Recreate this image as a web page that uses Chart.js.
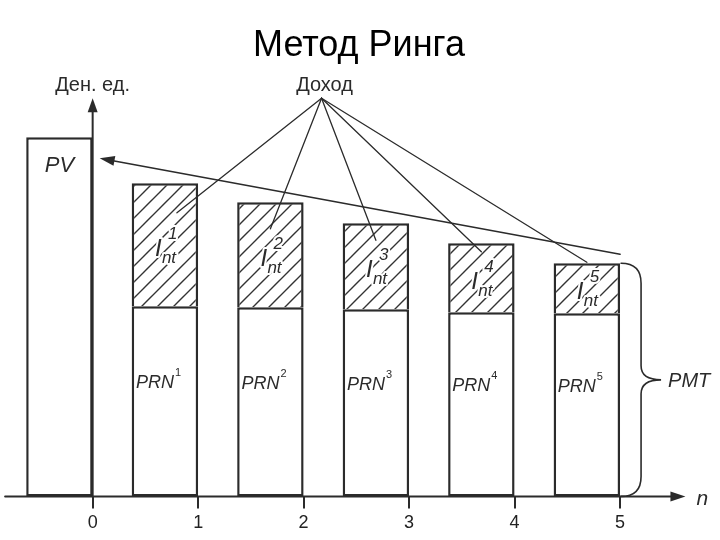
<!DOCTYPE html>
<html><head><meta charset="utf-8">
<script src="https://cdn.jsdelivr.net/npm/chart.js@4/dist/chart.umd.min.js"></script>
<style>html,body{margin:0;padding:0;background:#fff}canvas{display:block}</style>
</head><body>
<canvas id="c" width="720" height="540"></canvas>
<script>
// ---- data ----
const periods = [1, 2, 3, 4, 5];
const tickValues = [0, 1, 2, 3, 4, 5];
const tickLabels = ['0', '1', '2', '3', '4', '5'];
const pvValue = 359;
const principal = [190, 189, 187, 184, 183];   // PRN
const interest = [123, 105, 86, 69, 50];       // Int
const titleText = 'Метод Ринга';
const yAxisTitle = 'Ден. ед.';
const xAxisTitle = 'n';
const incomeText = 'Доход';
const pmtText = 'PMT';

// ---- style ----
const INK = '#2b2b2b';
const FONT = '"Liberation Sans", Arial, sans-serif';
const BAR_FRAC = 0.63;

function makeHatch() {
  const s = 16, c = document.createElement('canvas');
  c.width = s; c.height = s;
  const g = c.getContext('2d');
  g.fillStyle = '#fff'; g.fillRect(0, 0, s, s);
  g.strokeStyle = '#333'; g.lineWidth = 1.4;
  g.beginPath();
  g.moveTo(-2, s + 2); g.lineTo(s + 2, -2);
  g.moveTo(-2, 2); g.lineTo(2, -2);
  g.moveTo(s - 2, s + 2); g.lineTo(s + 2, s - 2);
  g.stroke();
  return g.createPattern(c, 'repeat');
}
const hatch = makeHatch();

function arrowHead(ctx, tx, ty, fx, fy, len, half) {
  const a = Math.atan2(ty - fy, tx - fx);
  ctx.beginPath();
  ctx.moveTo(tx, ty);
  ctx.lineTo(tx - len * Math.cos(a) + half * Math.sin(a), ty - len * Math.sin(a) - half * Math.cos(a));
  ctx.lineTo(tx - len * Math.cos(a) - half * Math.sin(a), ty - len * Math.sin(a) + half * Math.cos(a));
  ctx.closePath();
  ctx.fill();
}

function haloText(ctx, t, px, py) {
  ctx.save();
  ctx.strokeStyle = '#fff'; ctx.lineWidth = 4; ctx.lineJoin = 'round';
  ctx.strokeText(t, px, py);
  ctx.restore();
  ctx.fillText(t, px, py);
}

const annot = {
  id: 'annot',
  afterDatasetsDraw(chart) {
    const { ctx, scales: { x, y } } = chart;
    const x0 = x.getPixelForValue(0);
    const yb = y.getPixelForValue(0);
    ctx.save();
    ctx.strokeStyle = INK; ctx.fillStyle = INK; ctx.lineCap = 'round';

    // x axis with arrow
    const xl = x.getPixelForValue(-0.83), xr = x.getPixelForValue(5.62);
    ctx.lineWidth = 2;
    ctx.beginPath(); ctx.moveTo(xl, yb); ctx.lineTo(xr - 10, yb); ctx.stroke();
    arrowHead(ctx, xr, yb, xl, yb, 15, 5);
    ctx.font = 'italic 21px ' + FONT; ctx.textAlign = 'left'; ctx.textBaseline = 'middle';
    ctx.fillText(xAxisTitle, xr + 11, yb + 3);

    // y axis with arrow
    const yt = y.getPixelForValue(398);
    ctx.beginPath(); ctx.moveTo(x0, yb); ctx.lineTo(x0, yt + 10); ctx.stroke();
    arrowHead(ctx, x0, yt, x0, yb, 14, 5);
    ctx.font = '20px ' + FONT; ctx.textAlign = 'center';
    ctx.fillText(yAxisTitle, x0, y.getPixelForValue(411));

    // PV label
    const pvCx = x.getPixelForValue(-BAR_FRAC / 2);
    const pvTop = y.getPixelForValue(pvValue);
    ctx.font = 'italic 22px ' + FONT; ctx.textAlign = 'center'; ctx.textBaseline = 'alphabetic';
    ctx.fillText('PV', pvCx, pvTop + 35);

    // segment labels
    const intTargets = [];
    periods.forEach((p, i) => {
      const cx = x.getPixelForValue(p - BAR_FRAC / 2);
      const prnTop = y.getPixelForValue(principal[i]);
      const top = y.getPixelForValue(principal[i] + interest[i]);
      const ic = (prnTop + top) / 2;
      ctx.fillStyle = INK; ctx.textAlign = 'left'; ctx.textBaseline = 'alphabetic';
      ctx.font = 'italic 24px ' + FONT;
      haloText(ctx, 'I', cx - 10, ic + 11);
      ctx.font = 'italic 17px ' + FONT;
      haloText(ctx, 'nt', cx - 3, ic + 18);
      haloText(ctx, String(p), cx + 3, ic - 6);
      intTargets.push([cx + (i === 0 ? 12 : 0), ic - (i === 0 ? 32 : 26)]);
      // PRN
      const pc = (yb + prnTop) / 2;
      ctx.font = 'italic 18px ' + FONT;
      ctx.fillText('PRN', cx - 29, pc - 13);
      const w = ctx.measureText('PRN').width;
      ctx.font = '11px ' + FONT;
      ctx.fillText(String(p), cx - 29 + w + 1, pc - 25);
    });

    ctx.strokeStyle = INK; ctx.fillStyle = INK;
    // line from last bar to PV
    ctx.lineWidth = 1.5;
    const sx = x.getPixelForValue(5), sy = y.getPixelForValue(principal[4] + interest[4]) - 9;
    const tx = x0 + 7, ty = pvTop + 21;
    ctx.beginPath(); ctx.moveTo(sx, sy); ctx.lineTo(tx + 12, ty + 2.3); ctx.stroke();
    arrowHead(ctx, tx, ty, sx, sy, 15, 5);

    // Доход with pointer lines
    const ax = x.getPixelForValue(2.17), ay = y.getPixelForValue(398);
    ctx.font = '20px ' + FONT; ctx.textAlign = 'center'; ctx.textBaseline = 'middle';
    ctx.fillText(incomeText, ax + 3, y.getPixelForValue(411));
    ctx.lineWidth = 1.3;
    intTargets.forEach(([txp, typ]) => {
      ctx.beginPath(); ctx.moveTo(ax, ay); ctx.lineTo(txp, typ); ctx.stroke();
    });

    // brace PMT
    const bx = x.getPixelForValue(5) + 1;
    const bt = y.getPixelForValue(principal[4] + interest[4]);
    const bm = (bt + yb) / 2;
    ctx.lineWidth = 1.6;
    ctx.beginPath();
    ctx.moveTo(bx, bt);
    ctx.quadraticCurveTo(bx + 20, bt, bx + 20, bt + 20);
    ctx.lineTo(bx + 20, bm - 14);
    ctx.quadraticCurveTo(bx + 20, bm, bx + 40, bm);
    ctx.quadraticCurveTo(bx + 20, bm, bx + 20, bm + 14);
    ctx.lineTo(bx + 20, yb - 20);
    ctx.quadraticCurveTo(bx + 20, yb, bx, yb);
    ctx.stroke();
    ctx.font = 'italic 20px ' + FONT; ctx.textAlign = 'left'; ctx.textBaseline = 'middle';
    ctx.fillText(pmtText, bx + 47, bm + 2);
    ctx.restore();
  }
};

const barBase = { borderColor: INK, borderSkipped: false, stack: 's' };
new Chart(document.getElementById('c'), {
  type: 'bar',
  data: {
    datasets: [
      Object.assign({ label: 'PV', data: [{ x: 0 - BAR_FRAC / 2, y: pvValue }], backgroundColor: '#fff', borderWidth: 2.5 }, barBase),
      Object.assign({ label: 'PRN', data: periods.map((p, i) => ({ x: p - BAR_FRAC / 2, y: principal[i] })), backgroundColor: '#fff', borderWidth: 2.5 }, barBase),
      Object.assign({ label: 'Int', data: periods.map((p, i) => ({ x: p - BAR_FRAC / 2, y: interest[i] })), backgroundColor: hatch, borderWidth: { top: 2.5, left: 2.5, right: 2.5, bottom: 0 } }, barBase)
    ]
  },
  options: {
    responsive: false,
    animation: false,
    devicePixelRatio: 1,
    categoryPercentage: 1,
    barPercentage: BAR_FRAC,
    layout: { padding: { left: 3, right: 5, top: 0, bottom: 2 } },
    plugins: {
      legend: { display: false },
      tooltip: { enabled: false },
      title: { display: true, text: titleText, color: '#000', font: { family: FONT, size: 36, weight: 'normal' }, padding: { top: 24, bottom: 9 } }
    },
    scales: {
      x: {
        type: 'linear', min: -0.85, max: 5.9, offset: false,
        afterBuildTicks: s => { s.ticks = tickValues.map(v => ({ value: v })); },
        grid: { display: true, offset: false, drawOnChartArea: false, drawTicks: true, tickLength: 12, color: INK, lineWidth: 2 },
        border: { display: false },
        ticks: { color: '#222', font: { family: FONT, size: 18 }, padding: 4, callback: (v, i) => tickLabels[i] }
      },
      y: { display: false, stacked: true, min: 0, max: 420 }
    }
  },
  plugins: [annot]
});
</script>
</body></html>
